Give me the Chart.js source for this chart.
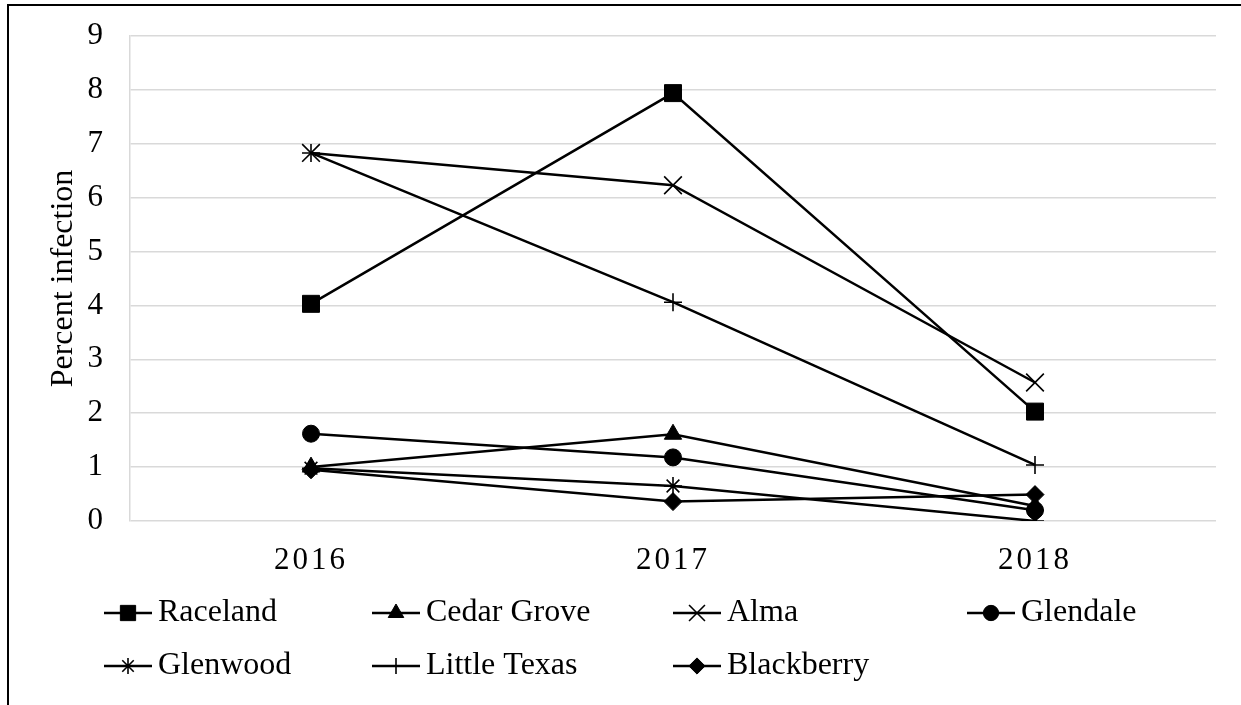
<!DOCTYPE html>
<html>
<head>
<meta charset="utf-8">
<title>Percent infection by location, 2016–2018</title>
<script src="https://cdn.jsdelivr.net/npm/chart.js@4/dist/chart.umd.min.js"></script>
<style>
  html, body { margin: 0; padding: 0; background: #fff; }
  #wrap { position: relative; width: 1241px; height: 705px; }
</style>
</head>
<body>
<div id="wrap"><canvas id="chart"></canvas></div>
<script>
// Survey years and percent infection per location
const years = ['2016', '2017', '2018'];
const raceland    = [4.03, 7.94, 2.03];
const cedarGrove  = [1.00, 1.61, 0.28];
const alma        = [6.83, 6.23, 2.57];
const glendale    = [1.62, 1.18, 0.20];
const glenwood    = [0.98, 0.65, 0.00];
const littleTexas = [6.83, 4.06, 1.04];
const blackberry  = [0.95, 0.36, 0.49];
const yTicks = [0, 1, 2, 3, 4, 5, 6, 7, 8, 9];

const FONT = 'Liberation Serif, "Times New Roman", serif';

function series(label, data, pointStyle, radius, borderWidth) {
  return {
    label, data, pointStyle,
    pointRadius: radius, pointHoverRadius: radius,
    pointBorderWidth: borderWidth,
    borderColor: '#000', backgroundColor: '#000',
    pointBackgroundColor: '#000', pointBorderColor: '#000',
    borderWidth: 2.5, tension: 0, fill: false
  };
}

const datasets = [
  series('Raceland', raceland, 'rect', 12, 1),
  series('Cedar Grove', cedarGrove, 'triangle', 10, 1),
  series('Alma', alma, 'crossRot', 12.5, 1.6),
  series('Glendale', glendale, 'circle', 8.5, 1),
  series('Glenwood', glenwood, 'star', 9, 1.6),
  series('Little Texas', littleTexas, 'cross', 9, 1.6),
  series('Blackberry', blackberry, 'rectRot', 9, 1)
];

// Legend grid: four columns, two rows, under the plot
const legendCols = [104, 372, 673, 967];
const legendRows = [613, 666];

const framePlugin = {
  id: 'frame',
  beforeDraw(chart) {
    const ctx = chart.ctx;
    ctx.save();
    ctx.fillStyle = '#fff';
    ctx.fillRect(0, 0, chart.width, chart.height);
    ctx.strokeStyle = '#000';
    ctx.lineWidth = 2;
    ctx.beginPath();
    ctx.moveTo(8, chart.height);
    ctx.lineTo(8, 5);
    ctx.lineTo(chart.width, 5);
    ctx.stroke();
    ctx.restore();

    // spaced-out year labels on the category axis
    const xs = chart.scales.x;
    if (xs && !xs._spaced) {
      const base = Object.getPrototypeOf(xs).drawLabels;
      xs.drawLabels = function (area) {
        this.ctx.save();
        this.ctx.letterSpacing = '3px';
        base.call(this, area);
        this.ctx.restore();
      };
      xs._spaced = true;
    }
  }
};

const legendPlugin = {
  id: 'gridLegend',
  afterDraw(chart) {
    const ctx = chart.ctx;
    const drawPoint = Chart.helpers && Chart.helpers.drawPoint;
    chart.data.datasets.forEach((ds, i) => {
      const x0 = legendCols[i % 4];
      const y = legendRows[Math.floor(i / 4)];
      ctx.save();
      ctx.strokeStyle = '#000';
      ctx.lineWidth = 2.5;
      ctx.beginPath();
      ctx.moveTo(x0, y);
      ctx.lineTo(x0 + 48, y);
      ctx.stroke();
      ctx.fillStyle = '#000';
      ctx.lineWidth = ds.pointBorderWidth;
      if (drawPoint) {
        drawPoint(ctx, {
          pointStyle: ds.pointStyle,
          radius: ds.pointRadius * 0.9,
          borderWidth: ds.pointBorderWidth,
          rotation: 0
        }, x0 + 24, y);
      }
      ctx.font = '32px ' + FONT;
      ctx.textBaseline = 'middle';
      ctx.textAlign = 'left';
      ctx.fillText(ds.label, x0 + 54, y);
      ctx.restore();
    });
  }
};

new Chart(document.getElementById('chart'), {
  type: 'line',
  data: { labels: years, datasets },
  plugins: [framePlugin, legendPlugin],
  options: {
    responsive: true,
    maintainAspectRatio: false,
    animation: false,
    layout: { padding: { left: 40, top: 36, right: 25, bottom: 0 } },
    plugins: {
      legend: { display: false },
      tooltip: { enabled: false },
      title: { display: false }
    },
    scales: {
      x: {
        type: 'category',
        offset: true,
        grid: { display: false, drawTicks: false },
        border: { display: false },
        ticks: {
          color: '#000',
          font: { family: FONT, size: 31 },
          padding: 21,
          maxRotation: 0
        },
        afterFit(scale) { scale.height = 184; }
      },
      y: {
        min: 0,
        max: 9,
        afterBuildTicks(scale) { scale.ticks = yTicks.map(v => ({ value: v })); },
        grid: { color: '#d9d9d9', lineWidth: 1.5, drawTicks: false },
        border: { display: true, color: '#d9d9d9', width: 1.5 },
        ticks: {
          color: '#000',
          font: { family: FONT, size: 31 },
          padding: 27
        },
        title: {
          display: true,
          text: 'Percent infection',
          color: '#000',
          font: { family: FONT, size: 32 },
          padding: { top: 4, bottom: 4 }
        },
        afterFit(scale) {
          scale.width = 90;
          scale.paddingTop = 0;
          scale.paddingBottom = 0;
        }
      }
    }
  }
});
</script>
</body>
</html>
